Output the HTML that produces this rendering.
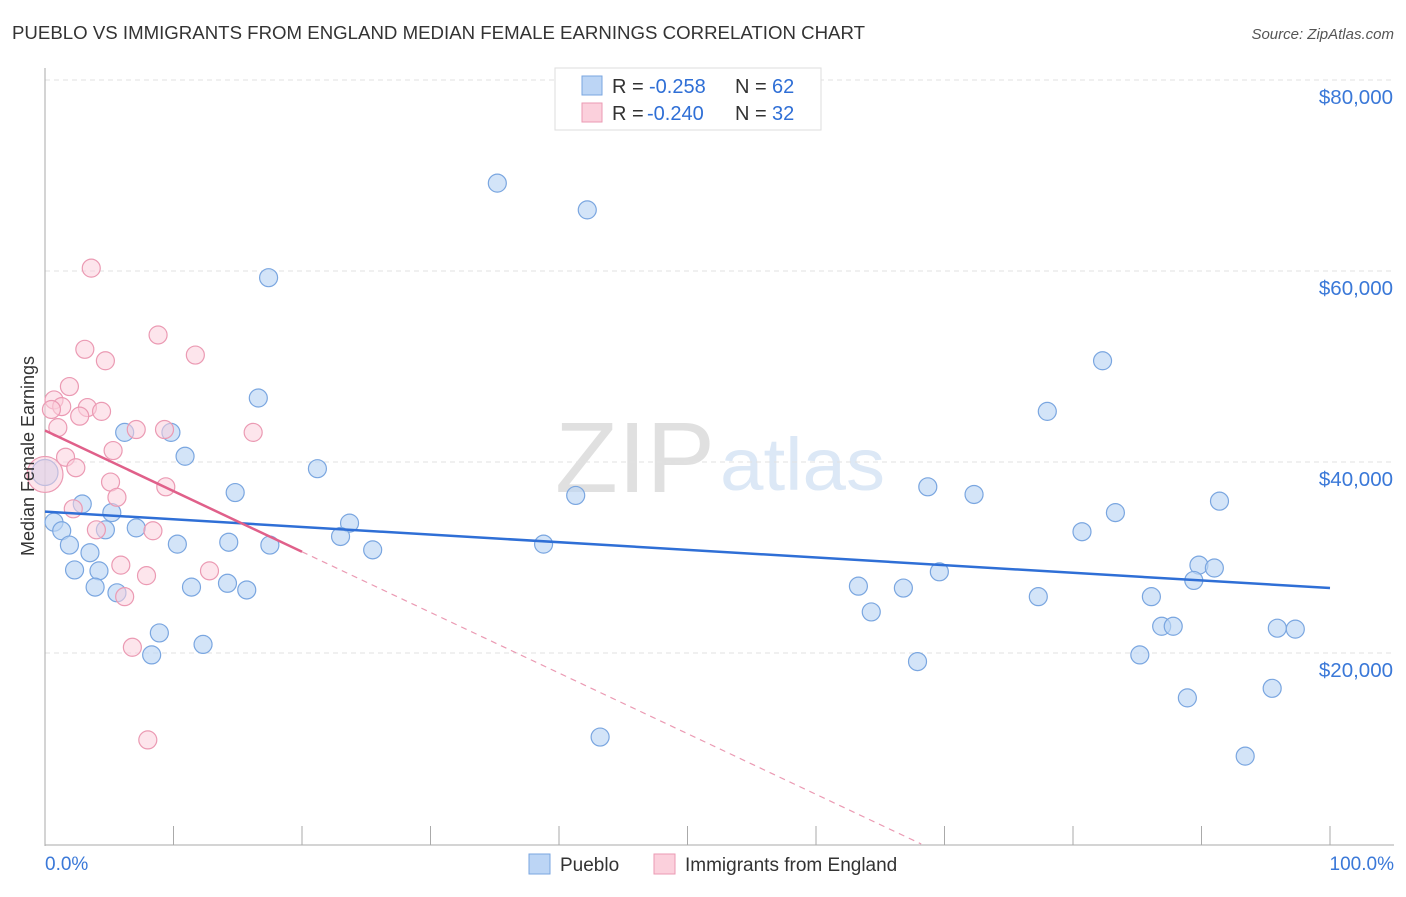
<!DOCTYPE html>
<html><head><meta charset="utf-8">
<style>
body{margin:0;background:#fff;font-family:"Liberation Sans",sans-serif;}
svg text{font-family:"Liberation Sans",sans-serif;}
</style></head>
<body>
<svg id="chart" width="1406" height="892" xmlns="http://www.w3.org/2000/svg">
<text x="12" y="39" font-size="18" fill="#333" textLength="853" lengthAdjust="spacingAndGlyphs">PUEBLO VS IMMIGRANTS FROM ENGLAND MEDIAN FEMALE EARNINGS CORRELATION CHART</text>
<text x="1394" y="39" font-size="15" fill="#555" text-anchor="end" font-style="italic">Source: ZipAtlas.com</text>
<text x="555" y="492" font-size="100" fill="#e0e0e0" font-family="Liberation Serif" textLength="160" lengthAdjust="spacingAndGlyphs">ZIP</text>
<text x="720" y="490" font-size="74" fill="#dce8f6" textLength="165" lengthAdjust="spacingAndGlyphs">atlas</text>
<g id="grid"></g>
<g id="axes"></g>
<g id="marks"></g>
<text transform="translate(34,456) rotate(-90)" font-size="18" fill="#333" text-anchor="middle">Median Female Earnings</text>
<g>
<rect x="555" y="68" width="266" height="62" fill="#fff" stroke="#ddd"/>
<rect x="582" y="76" width="20" height="19" fill="#bcd5f5" stroke="#7aa6e0"/>
<rect x="582" y="103" width="20" height="19" fill="#fbd0dc" stroke="#eb9ab3"/>
<text x="612" y="93" font-size="20" fill="#333">R =</text>
<text x="649" y="93" font-size="20" fill="#2f6fd6">-0.258</text>
<text x="735" y="93" font-size="20" fill="#333">N =</text>
<text x="772" y="93" font-size="20" fill="#2f6fd6">62</text>
<text x="612" y="120" font-size="20" fill="#333">R =</text>
<text x="647" y="120" font-size="20" fill="#2f6fd6">-0.240</text>
<text x="735" y="120" font-size="20" fill="#333">N =</text>
<text x="772" y="120" font-size="20" fill="#2f6fd6">32</text>
</g>
<g>
<rect x="529" y="854" width="21" height="20" fill="#bcd5f5" stroke="#7aa6e0"/>
<text x="560" y="871" font-size="19" fill="#333">Pueblo</text>
<rect x="654" y="854" width="21" height="20" fill="#fbd0dc" stroke="#eb9ab3"/>
<text x="685" y="871" font-size="19" fill="#333">Immigrants from England</text>
</g>
</svg>
<script>
const yTicks=[20000,40000,60000,80000];
const yTickLabels=["$20,000","$40,000","$60,000","$80,000"];
const blueX=[35.2,42.2,17.4,82.3,78.0,16.6,6.2,9.8,10.9,21.2,14.8,41.3,68.7,72.3,91.4,2.9,5.2,83.3,0.7,23.7,7.1,1.3,4.7,80.7,23.0,1.9,10.3,14.3,38.8,17.5,25.5,3.5,2.3,4.2,89.8,91.0,69.6,89.4,14.2,11.4,3.9,63.3,66.8,15.7,5.6,77.3,86.1,64.3,86.9,87.8,95.9,97.3,8.9,12.3,8.3,85.2,67.9,95.5,88.9,43.2,93.4,0];
const blueY=[69200,66400,59300,50600,45300,46700,43100,43100,40600,39300,36800,36500,37400,36600,35900,35600,34700,34700,33700,33600,33100,32800,32900,32700,32200,31300,31400,31600,31400,31300,30800,30500,28700,28600,29200,28900,28500,27600,27300,26900,26900,27000,26800,26600,26300,25900,25900,24300,22800,22800,22600,22500,22100,20900,19800,19800,19100,16300,15300,11200,9200,38900];
const pinkX=[3.6,8.8,3.1,11.7,4.7,1.9,0.7,1.3,0.5,3.3,4.4,2.7,1.0,7.1,9.3,16.2,5.3,1.6,2.4,5.1,9.4,5.6,2.2,4.0,8.4,5.9,12.8,7.9,6.2,6.8,8.0,0];
const pinkY=[60300,53300,51800,51200,50600,47900,46500,45800,45500,45700,45300,44800,43600,43400,43400,43100,41200,40500,39400,37900,37400,36300,35100,32900,32800,29200,28600,28100,25900,20600,10900,38700];
const blueTrend=[34800,26800];
const pinkTrend=[43300,30600];
const X=p=>45+p*12.85, Y=v=>80+(80000-v)*0.00955;
const NS="http://www.w3.org/2000/svg";
function mk(parent,tag,attrs){const e=document.createElementNS(NS,tag);for(const k in attrs)e.setAttribute(k,attrs[k]);document.getElementById(parent).appendChild(e);return e;}
yTicks.forEach((t,i)=>{
 const l=mk('grid','line',{x1:45,x2:1394,y1:Y(t),y2:Y(t),stroke:'#e2e2e2','stroke-dasharray':'5,4'});
 
 
 const tx=mk('axes','text',{x:1393,y:Y(t)+24,'font-size':20.5,fill:'#3a78d8','text-anchor':'end'});
 tx.textContent=yTickLabels[i];
 
 
});
let a=mk('axes','line',{x1:45,x2:45,y1:68,y2:846,stroke:'#aaa'});


a=mk('axes','line',{x1:45,x2:1394,y1:845,y2:845,stroke:'#aaa'});


for(let i=0;i<=10;i++){const t=mk('axes','line',{x1:X(i*10),x2:X(i*10),y1:826,y2:845,stroke:'#aaa'});
 
 }
let t0=mk('axes','text',{x:45,y:870,'font-size':19,fill:'#3a78d8'});t0.textContent='0.0%';


t0=mk('axes','text',{x:1394,y:870,'font-size':19,fill:'#3a78d8','text-anchor':'end'});t0.textContent='100.0%';


blueX.forEach((x,i)=>{const c=mk('marks','circle',{cx:X(x),cy:Y(blueY[i]),r:(x===0?13:9),fill:'rgba(188,213,245,0.65)',stroke:'#7aa6e0','stroke-width':1.2});
 
 });
pinkX.forEach((x,i)=>{const c=mk('marks','circle',{cx:X(x),cy:Y(pinkY[i]),r:(x===0?18:9),fill:'rgba(251,208,220,0.55)',stroke:'#eb9ab3','stroke-width':1.2});
 
 });
let l=mk('marks','line',{x1:X(0),y1:Y(blueTrend[0]),x2:X(100),y2:Y(blueTrend[1]),stroke:'#2f6fd6','stroke-width':2.5});


const slope=(pinkTrend[1]-pinkTrend[0])/20, xz=-pinkTrend[0]/slope;
l=mk('marks','line',{x1:X(20),y1:Y(pinkTrend[1]),x2:X(xz),y2:Y(0),stroke:'#eb9ab3','stroke-width':1.2,'stroke-dasharray':'6,5'});


l=mk('marks','line',{x1:X(0),y1:Y(pinkTrend[0]),x2:X(20),y2:Y(pinkTrend[1]),stroke:'#e0608a','stroke-width':2.5});


</script>
</body></html>
